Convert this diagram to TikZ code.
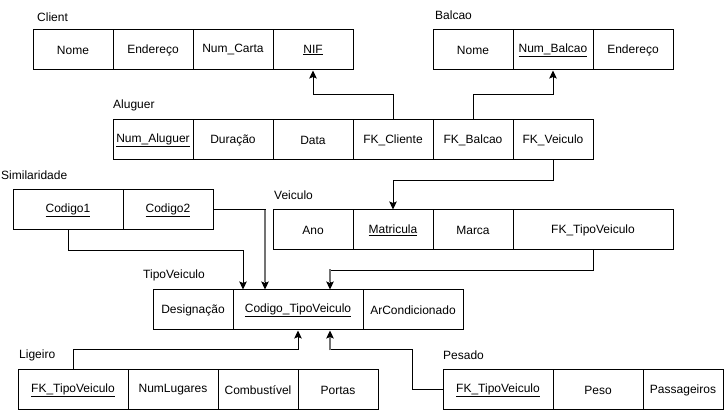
\documentclass[tikz,border=0pt]{standalone}
\usepackage{fontspec}
\setmainfont{Liberation Sans}
\usepackage{tikz}
\usetikzlibrary{arrows.meta}

\tikzset{
    attr/.style={draw, line width=1pt, minimum height=40pt, inner sep=0pt, font=\fontsize{12}{14}\selectfont},
    tname/.style={anchor=west, inner sep=0pt, font=\fontsize{12}{14}\selectfont},
    fk/.style={line width=1pt, -{Stealth[length=8pt, width=7.5pt, inset=1.5pt]}},
    fkgray/.style={line width=2pt, draw=black!55}
}

\begin{document}
\begin{tikzpicture}[x=1pt, y=-1pt]
        \useasboundingbox (0,0) rectangle (724,411);

        % Client
        \node[tname] (tcli) at (37, 17) {Client};
        \node[attr, minimum width=80] (cnome) at (73, 50) {Nome};
        \node[attr, minimum width=80] (cend) at (153, 50) {Endereço};
        \node[attr, minimum width=80] (ccarta) at (233, 50) {Num\_Carta};
        \node[attr, minimum width=80] (cnif) at (313, 50) {\underline{NIF}};

        % Balcao
        \node[tname] (tbal) at (435, 15) {Balcao};
        \node[attr, minimum width=80] (bnome) at (473, 50) {Nome};
        \node[attr, minimum width=80] (bnum) at (553, 50) {\underline{Num\_Balcao}};
        \node[attr, minimum width=80] (bend) at (633, 50) {Endereço};

        % Aluguer
        \node[tname] (talu) at (113, 105) {Aluguer};
        \node[attr, minimum width=80] (anum) at (153, 140) {\underline{Num\_Aluguer}};
        \node[attr, minimum width=80] (adur) at (233, 140) {Duração};
        \node[attr, minimum width=80] (adata) at (313, 140) {Data};
        \node[attr, minimum width=80] (acli) at (393, 140) {FK\_Cliente};
        \node[attr, minimum width=80] (abal) at (473, 140) {FK\_Balcao};
        \node[attr, minimum width=80] (aveic) at (553, 140) {FK\_Veiculo};

        % Similaridade
        \node[tname] (tsim) at (1, 175) {Similaridade};
        \node[attr, minimum width=110] (scod1) at (68, 210) {\underline{Codigo1}};
        \node[attr, minimum width=90] (scod2) at (168, 210) {\underline{Codigo2}};

        % Veiculo
        \node[tname] (tvei) at (274, 195) {Veiculo};
        \node[attr, minimum width=80] (vano) at (313, 230) {Ano};
        \node[attr, minimum width=80] (vmat) at (393, 230) {\underline{Matricula}};
        \node[attr, minimum width=80] (vmarca) at (473, 230) {Marca};
        \node[attr, minimum width=160] (vfk) at (593, 230) {FK\_TipoVeiculo};

        % TipoVeiculo
        \node[tname] (ttipo) at (143, 275) {TipoVeiculo};
        \node[attr, minimum width=80] (tdes) at (193, 310) {Designação};
        \node[attr, minimum width=130] (tcod) at (298, 310) {\underline{Codigo\_TipoVeiculo}};
        \node[attr, minimum width=100] (tar) at (413, 310) {ArCondicionado};

        % Ligeiro
        \node[tname] (tlig) at (19, 355) {Ligeiro};
        \node[attr, minimum width=110] (lfk) at (73, 390) {\underline{FK\_TipoVeiculo}};
        \node[attr, minimum width=90] (lnum) at (173, 390) {NumLugares};
        \node[attr, minimum width=80] (lcomb) at (258, 390) {Combustível};
        \node[attr, minimum width=80] (lport) at (338, 390) {Portas};

        % Pesado
        \node[tname] (tpes) at (443, 355) {Pesado};
        \node[attr, minimum width=110] (pfk) at (498, 390) {\underline{FK\_TipoVeiculo}};
        \node[attr, minimum width=90] (ppeso) at (598, 390) {Peso};
        \node[attr, minimum width=80] (ppass) at (683, 390) {Passageiros};

        % chaves estrangeiras
        \draw[fk] (acli.north) -- ++(0,-25) -| (cnif.south);
        \draw[fk] (abal.north) -- ++(0,-25) -| (bnum.south);
        \draw[fk] (aveic.south) -- ++(0,20) -| (vmat.north);
        \draw[fk] (scod1.south) -- ++(0,20) -| ([xshift=-55]tcod.north);
        \draw[fk] (scod2.east) -| ([xshift=-33]tcod.north);
        \draw[fk] (vfk.south) -- ++(0,20) -| ([xshift=32]tcod.north);
        \draw[fk] (lfk.north) -- ++(0,-20) -| (tcod.south);
        \draw[fk] (pfk.west) -- ++(-30,0) -- ++(0,-40) -| ([xshift=32]tcod.south);

        % troços cinzentos
        \draw[fkgray] ([xshift=-33]tcod.north |- scod2.east) -- ([xshift=-33, yshift=7]tcod.north);
        \draw[fkgray] ([xshift=32, yshift=20]tcod.north) -- ([xshift=32, yshift=7]tcod.north);
        \draw[fkgray] ([xshift=32, yshift=-20]tcod.south) -- ([xshift=32, yshift=-7]tcod.south);
    \end{tikzpicture}
\end{document}
